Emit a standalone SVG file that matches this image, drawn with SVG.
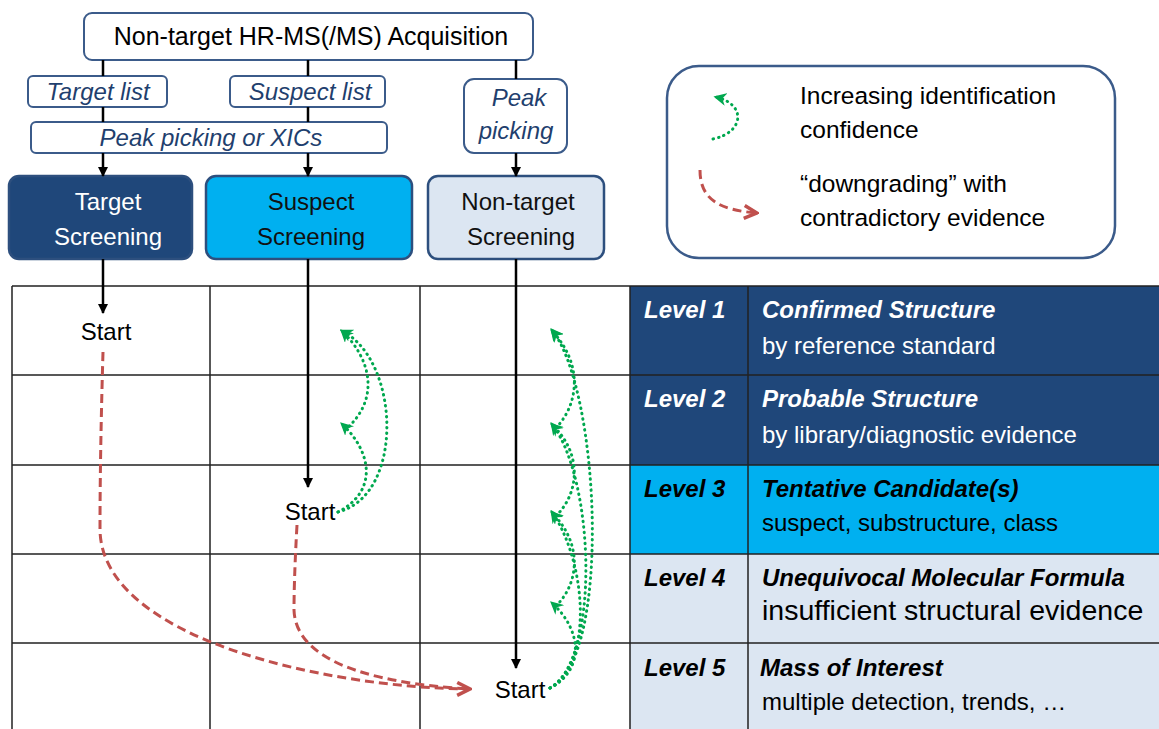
<svg xmlns="http://www.w3.org/2000/svg" width="1159" height="729" viewBox="0 0 1159 729">
<defs>
<marker id="blk" viewBox="0 0 10 10" refX="9" refY="5" markerWidth="10" markerHeight="10" markerUnits="userSpaceOnUse" orient="auto"><path d="M0,0 L10,5 L0,10 z" fill="#000"/></marker>
<marker id="grn" viewBox="0 0 10 10" refX="8" refY="5" markerWidth="13" markerHeight="13" markerUnits="userSpaceOnUse" orient="auto"><path d="M0,0 L10,5 L0,10 L3,5 z" fill="#00A84F"/></marker>
<marker id="red" viewBox="0 0 10 10" refX="9" refY="5" markerWidth="16" markerHeight="16" markerUnits="userSpaceOnUse" orient="auto"><path d="M1,1 L9,5 L1,9" fill="none" stroke="#C0504D" stroke-width="2.2"/></marker>
</defs>
<style>
text{font-family:"Liberation Sans",Arial,sans-serif}
.box{fill:#fff;stroke:#3B5B8A;stroke-width:2}
.lbl{font-size:24px;font-style:italic;fill:#1F3F6E;text-anchor:middle}
.scr{font-size:24px;text-anchor:middle}
.wire{stroke:#000;stroke-width:2.5;fill:none}
.grid{stroke:#222;stroke-width:1.5;fill:none}
.g{stroke:#00A84F;stroke-width:3;fill:none;stroke-dasharray:0.5 5;stroke-linecap:round}
.r{stroke:#C0504D;stroke-width:3;fill:none;stroke-dasharray:9 5}
.lv{font-size:24px;font-weight:bold;font-style:italic}
.tt{font-size:24px;font-weight:bold;font-style:italic}
.sub{font-size:24px}
.leg{font-size:24.5px;fill:#000}
.st{font-size:24px;text-anchor:middle}
</style>
<g id="table">
<rect x="630" y="286" width="529" height="179" fill="#1F477A"/>
<rect x="630" y="465" width="529" height="89" fill="#00B0F0"/>
<rect x="630" y="554" width="529" height="175" fill="#DCE6F2"/>
</g>
<g id="grid">
<path class="grid" d="M12,286 H1159 M12,375 H1159 M12,465 H1159 M12,554 H1159 M12,643 H1159"/>
<path class="grid" d="M12,286 V729 M210,286 V729 M420,286 V729 M630,286 V729 M748,286 V729"/>
</g>
<g id="levels">
<text class="lv" x="644" y="318" fill="#fff" font-size="23">Level 1</text>
<text class="tt" x="762" y="318" fill="#fff">Confirmed Structure</text>
<text class="sub" x="762" y="354" fill="#fff">by reference standard</text>
<text class="lv" x="644" y="407" fill="#fff">Level 2</text>
<text class="tt" x="762" y="407" fill="#fff">Probable Structure</text>
<text class="sub" x="762" y="443" fill="#fff">by library/diagnostic evidence</text>
<text class="lv" x="644" y="497" fill="#000">Level 3</text>
<text class="tt" x="762" y="497" fill="#000">Tentative Candidate(s)</text>
<text class="sub" x="762" y="531" fill="#000">suspect, substructure, class</text>
<text class="lv" x="644" y="586" fill="#000">Level 4</text>
<text class="tt" x="762" y="586" fill="#000" font-size="23">Unequivocal Molecular Formula</text>
<text x="762" y="620" fill="#000" font-size="28.5">insufficient structural evidence</text>
<text class="lv" x="644" y="676" fill="#000">Level 5</text>
<text class="tt" x="760" y="676" fill="#000">Mass of Interest</text>
<text class="sub" x="762" y="710" fill="#000">multiple detection, trends, …</text>
</g>
<g id="acquisition">
<rect class="box" x="84" y="13" width="449" height="47" rx="8"/>
<text x="311" y="45" font-size="25" text-anchor="middle">Non-target HR-MS(/MS) Acquisition</text>
</g>
<g id="targetList"><rect class="box" x="28" y="76" width="139" height="31" rx="5"/><text class="lbl" x="98" y="100">Target list</text></g>
<g id="suspectList"><rect class="box" x="230" y="76" width="155" height="31" rx="5"/><text class="lbl" x="310" y="100">Suspect list</text></g>
<g id="peakXIC"><rect class="box" x="31" y="122" width="356" height="31" rx="5"/><text class="lbl" x="211" y="146">Peak picking or XICs</text></g>
<g id="peakPicking"><rect class="box" x="464" y="79" width="103" height="74" rx="10"/><text class="lbl" x="519" y="106">Peak</text><text class="lbl" x="516" y="139">picking</text></g>
<g id="targetScreening"><rect x="9" y="176" width="183" height="83" rx="10" fill="#1F477A" stroke="#2D4F7E" stroke-width="2.5"/><text class="scr" x="108" y="210" fill="#fff">Target</text><text class="scr" x="108" y="245" fill="#fff">Screening</text></g>
<g id="suspectScreening"><rect x="206" y="176" width="206" height="83" rx="10" fill="#00B0F0" stroke="#2D4F7E" stroke-width="2.5"/><text class="scr" x="311" y="210" fill="#111">Suspect</text><text class="scr" x="311" y="245" fill="#111">Screening</text></g>
<g id="nontargetScreening"><rect x="428" y="176" width="176" height="83" rx="10" fill="#DCE6F2" stroke="#2D4F7E" stroke-width="2.5"/><text class="scr" x="518" y="210" fill="#111">Non-target</text><text class="scr" x="521" y="245" fill="#111">Screening</text></g>
<g id="starts">
<text class="st" x="106" y="340">Start</text>
<text class="st" x="310" y="520">Start</text>
<text class="st" x="520" y="698">Start</text>
</g>
<g id="legend">
<rect x="667" y="66" width="448" height="192" rx="32" fill="#fff" stroke="#3B5B8A" stroke-width="2.5"/>
<path class="g" d="M713,139 C745,132 746,104 716,97" marker-end="url(#grn)"/>
<path class="r" d="M700,170 C700,200 720,210 757,213" marker-end="url(#red)"/>
<text class="leg" x="800" y="104">Increasing identification</text>
<text class="leg" x="800" y="138">confidence</text>
<text class="leg" x="800" y="192">“downgrading” with</text>
<text class="leg" x="800" y="226">contradictory evidence</text>
</g>
<g id="connectors">
<path class="wire" d="M103,60 V76 M308,60 V76 M516,60 V79 M103,107 V122 M308,107 V122"/>
<path class="wire" d="M103,153 V176" marker-end="url(#blk)"/>
<path class="wire" d="M308,153 V176" marker-end="url(#blk)"/>
<path class="wire" d="M516,153 V176" marker-end="url(#blk)"/>
<path class="wire" d="M103,259 V313" marker-end="url(#blk)"/>
<path class="wire" d="M308,259 V487" marker-end="url(#blk)"/>
<path class="wire" d="M516,259 V668" marker-end="url(#blk)"/>
<path class="r" d="M103,352 C101,420 100,480 100,530 C102,640 330,688 470,689" marker-end="url(#red)"/>
<path class="r" d="M297,525 C295,560 294,590 294,610 C296,670 400,685 470,689"/>
<path class="g" d="M338,512 C405,495 400,360 342,331" marker-end="url(#grn)"/>
<path class="g" d="M338,512 C380,490 370,450 342,424" marker-end="url(#grn)"/>
<path class="g" d="M345,430 C380,400 372,360 342,331" marker-end="url(#grn)"/>
<path class="g" d="M550,688 C612,660 600,390 552,330" marker-end="url(#grn)"/>
<path class="g" d="M550,688 C600,660 595,480 552,424" marker-end="url(#grn)"/>
<path class="g" d="M550,688 C595,660 585,560 552,512" marker-end="url(#grn)"/>
<path class="g" d="M550,688 C585,670 582,630 552,603" marker-end="url(#grn)"/>
<path class="g" d="M556,428 C582,400 580,360 552,331" marker-end="url(#grn)"/>
<path class="g" d="M556,516 C582,490 580,450 552,425" marker-end="url(#grn)"/>
<path class="g" d="M556,606 C582,580 580,540 552,513" marker-end="url(#grn)"/>
</g>
</svg>
